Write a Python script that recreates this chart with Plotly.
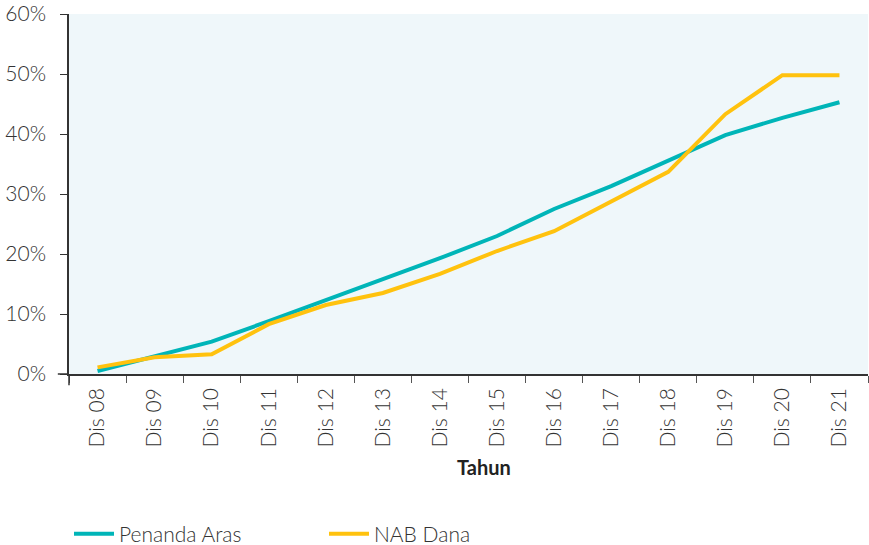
import plotly.graph_objects as go

# Year-end labels (December of each year)
periods = ["Dis 08", "Dis 09", "Dis 10", "Dis 11", "Dis 12", "Dis 13", "Dis 14",
           "Dis 15", "Dis 16", "Dis 17", "Dis 18", "Dis 19", "Dis 20", "Dis 21"]

# Cumulative returns, in percent
penanda_aras = [0.5, 3.0, 5.4, 8.8, 12.3, 15.7, 19.3, 23.0, 27.5, 31.3, 35.5, 39.8, 42.7, 45.3]
nab_dana = [1.1, 2.8, 3.3, 8.3, 11.5, 13.5, 16.7, 20.5, 23.8, 28.8, 33.7, 43.3, 49.8, 49.8]

y_ticks = [0, 10, 20, 30, 40, 50, 60]
y_tick_labels = [f"{v}%" for v in y_ticks]

TEAL = "#00B5B8"
GOLD = "#FFC20E"
FONT = "Lato"
TEXT = "#333333"
AXIS = "#333333"

fig = go.Figure()
fig.add_trace(go.Scatter(x=periods, y=penanda_aras, name="Penanda Aras",
                         mode="lines", line=dict(color=TEAL, width=4)))
fig.add_trace(go.Scatter(x=periods, y=nab_dana, name="NAB Dana",
                         mode="lines", line=dict(color=GOLD, width=4)))

fig.update_layout(
    width=869, height=545,
    margin=dict(l=69, r=1, t=14, b=171, autoexpand=False),
    paper_bgcolor="white",
    plot_bgcolor="#EFF7FA",
    font=dict(family=FONT, size=20, color=TEXT, weight=300),
    showlegend=True,
    legend=dict(orientation="h", x=0.0, xanchor="left", y=-0.445, yanchor="middle",
                font=dict(size=21, color=TEXT, weight=300), entrywidth=200, itemwidth=40,
                bgcolor="rgba(0,0,0,0)"),
    annotations=[dict(text="<b>Tahun</b>", x=0.52, xref="paper", y=-0.258, yref="paper",
                      showarrow=False, font=dict(size=20, color="#222222", weight=700),
                      xanchor="center", yanchor="middle")],
    # the two axis lines run slightly past each other at the origin corner
    shapes=[
        dict(type="line", xref="paper", yref="paper", x0=-0.014, x1=0, y0=0, y1=0,
             line=dict(color=AXIS, width=1.5)),
        dict(type="line", xref="paper", yref="paper", x0=0, x1=0, y0=-0.031, y1=0,
             line=dict(color=AXIS, width=1.5)),
    ],
)

fig.update_xaxes(
    type="category", range=[-0.5, len(periods) - 0.5],
    showline=True, linecolor=AXIS, linewidth=1.5,
    ticks="outside", tickson="boundaries", ticklen=7, tickcolor="#555555",
    tickangle=-90, showgrid=False, ticklabelstandoff=4,
    tickfont=dict(size=21, color=TEXT, weight=300),
)
fig.update_yaxes(
    range=[0, 60], tickvals=y_ticks, ticktext=y_tick_labels,
    showline=True, linecolor=AXIS, linewidth=1.5,
    ticks="outside", ticklen=7, tickcolor=AXIS,
    showgrid=False, zeroline=False, ticklabelstandoff=10,
    tickfont=dict(size=21, color=TEXT, weight=300),
)

fig.write_html("out.html")
